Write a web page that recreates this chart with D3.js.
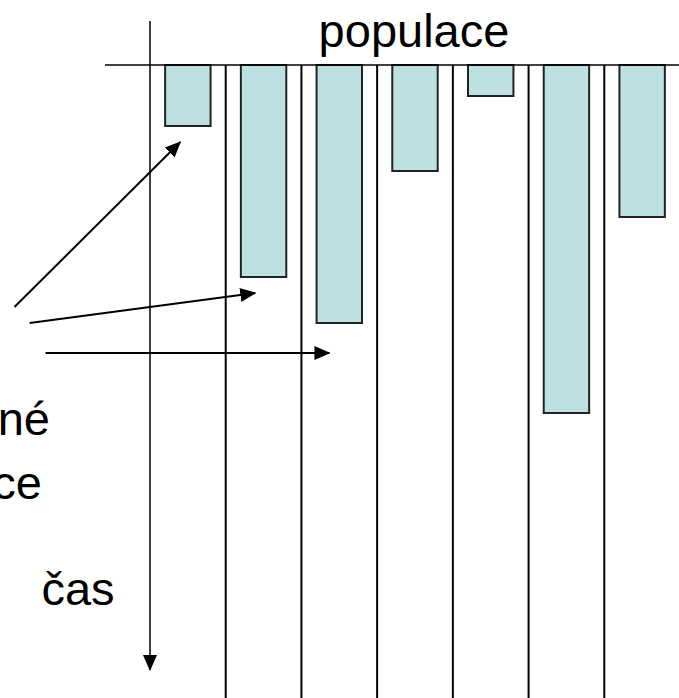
<!DOCTYPE html>
<html>
<head>
<meta charset="utf-8">
<script src="https://cdn.jsdelivr.net/npm/d3@7"></script>
<style>
  html, body { margin: 0; padding: 0; background: #fff; }
  svg { display: block; }
  text { font-family: "Liberation Sans", Arial, sans-serif; fill: #000; }
</style>
</head>
<body>
<svg id="chart" width="679" height="698"></svg>
<script>
// Data
const populations = ["1", "2", "3", "4", "5", "6", "7"];
const depths = [61, 212, 258, 106, 31, 348, 152];   // bar length downward (time units)
const topLabel = "populace";
const timeLabel = "čas";
const sideLabelLines = ["izolované", "populace"];
// arrows: [from, to] in value space (x = band index position, y = time value)
const arrowFrom = [[-1.79, 242], [-1.59, 258], [-1.38, 288]];
const arrowTo   = [[0.4, 77], [1.39, 228], [2.37, 288]];

const svg = d3.select("#chart");
const W = 679, H = 698;

const x = d3.scaleBand().domain(populations).range([150, 680]).paddingInner(0.4).paddingOuter(0.2);
const step = x.step();
const xPos = d3.scaleLinear().domain([0, 7]).range([150, 680]);
const y = d3.scaleLinear().domain([0, 605]).range([65, 670]);

// marker
const defs = svg.append("defs");
defs.append("marker")
  .attr("id", "ah").attr("markerUnits", "userSpaceOnUse")
  .attr("viewBox", "0 0 16 14").attr("refX", 15).attr("refY", 7)
  .attr("markerWidth", 16).attr("markerHeight", 14).attr("orient", "auto")
  .append("path").attr("d", "M0,0 L16,7 L0,14 Z").attr("fill", "#000");

// divider lines between populations
svg.append("g").selectAll("line").data(populations.slice(1)).join("line")
  .attr("x1", d => x(d) - x.paddingOuter() * step).attr("x2", d => x(d) - x.paddingOuter() * step)
  .attr("y1", y(0)).attr("y2", H)
  .attr("stroke", "#000").attr("stroke-width", 2);

// bars
svg.append("g").selectAll("rect").data(populations).join("rect")
  .attr("x", d => x(d)).attr("width", x.bandwidth())
  .attr("y", y(0)).attr("height", (d, i) => y(depths[i]) - y(0))
  .attr("fill", "#bde0e3").attr("stroke", "#222").attr("stroke-width", 2);

// top horizontal line (population axis)
svg.append("line").attr("x1", 105).attr("x2", W).attr("y1", y(0)).attr("y2", y(0))
  .attr("stroke", "#000").attr("stroke-width", 1.6);

// time axis (vertical arrow)
svg.append("line").attr("x1", 150).attr("x2", 150).attr("y1", 21).attr("y2", y(605))
  .attr("stroke", "#000").attr("stroke-width", 1.5).attr("marker-end", "url(#ah)");

// arrows from side label
svg.append("g").selectAll("line").data(arrowFrom).join("line")
  .attr("x1", d => xPos(d[0])).attr("y1", d => y(d[1]))
  .attr("x2", (d, i) => xPos(arrowTo[i][0])).attr("y2", (d, i) => y(arrowTo[i][1]))
  .attr("stroke", "#000").attr("stroke-width", 2).attr("marker-end", "url(#ah)");

// texts
svg.append("text").attr("x", 414).attr("y", 47).attr("text-anchor", "middle")
  .attr("font-size", 47).text(topLabel);
svg.append("text").attr("x", 78).attr("y", 605).attr("text-anchor", "middle")
  .attr("font-size", 47).text(timeLabel);
svg.append("g").selectAll("text").data(sideLabelLines).join("text")
  .attr("x", (d, i) => i === 0 ? 50 : 42).attr("y", (d, i) => i === 0 ? 435 : 499)
  .attr("text-anchor", "end").attr("font-size", 47).text(d => d);
</script>
</body>
</html>
